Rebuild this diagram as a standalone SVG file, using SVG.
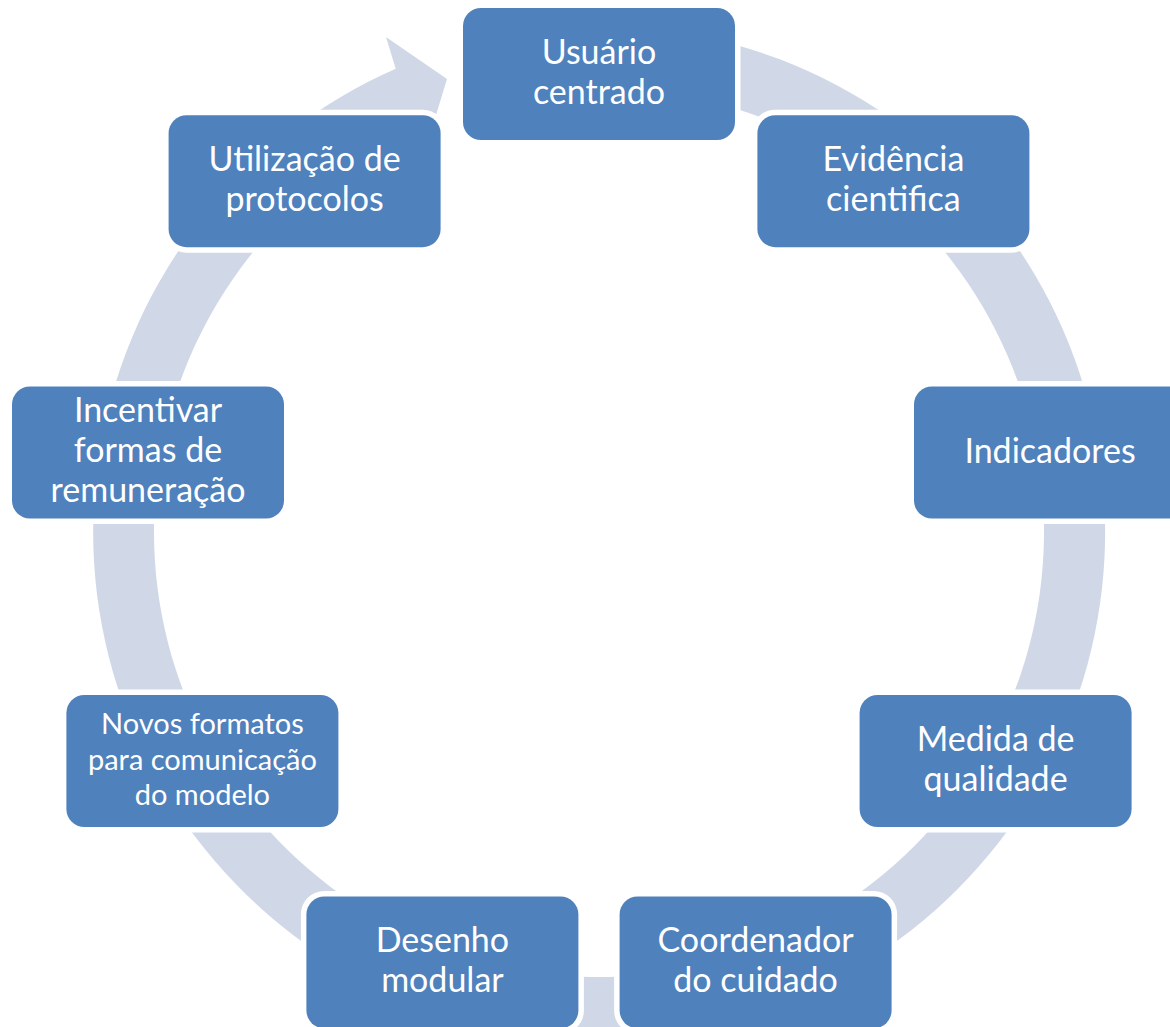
<svg xmlns="http://www.w3.org/2000/svg" width="1170" height="1027" viewBox="0 0 1170 1027">
<defs>
<style>
.box{fill:#4F81BD;stroke:#FFFFFF;stroke-width:11;paint-order:stroke fill}
.t{font-family:Lato,"Liberation Sans",sans-serif;font-size:34px;fill:#FFFFFF;text-anchor:middle}
.s{font-size:29px}
.ring{fill:#D0D8E8}
</style>
</defs>
<rect width="1170" height="1027" fill="#FFFFFF"/>
<g id="connectors">
<path class="ring" d="M599,26 A506,506 0 1,1 395.7,68.7 L386,37 L447,79 L422,161 L420.2,124.5 A445,445 0 1,0 599,87 Z"/>
</g>
<g id="n0">
<rect class="box" x="463" y="8" width="272" height="132" rx="18"/>
<text class="t" x="599" y="64">Usuário</text>
<text class="t" x="599" y="104">centrado</text>
</g>
<g id="n1">
<rect class="box" x="757.4" y="115.2" width="272" height="132" rx="18"/>
<text class="t" x="893.4" y="171">Evidência</text>
<text class="t" x="893.4" y="211">cientifica</text>
</g>
<g id="n2">
<rect class="box" x="914" y="386.5" width="272" height="132" rx="18"/>
<text class="t" x="1050" y="463">Indicadores</text>
</g>
<g id="n3">
<rect class="box" x="859.6" y="695" width="272" height="132" rx="18"/>
<text class="t" x="995.6" y="751">Medida de</text>
<text class="t" x="995.6" y="791">qualidade</text>
</g>
<g id="n4">
<rect class="box" x="619.6" y="896.4" width="272" height="132" rx="18"/>
<text class="t" x="755.6" y="952">Coordenador</text>
<text class="t" x="755.6" y="992">do cuidado</text>
</g>
<g id="n5">
<rect class="box" x="306.4" y="896.4" width="272" height="132" rx="18"/>
<text class="t" x="442.4" y="952">Desenho</text>
<text class="t" x="442.4" y="992">modular</text>
</g>
<g id="n6">
<rect class="box" x="66.4" y="695" width="272" height="132" rx="18"/>
<text class="t s" x="202.4" y="734">Novos formatos</text>
<text class="t s" x="202.4" y="770">para comunicação</text>
<text class="t s" x="202.4" y="805">do modelo</text>
</g>
<g id="n7">
<rect class="box" x="12" y="386.5" width="272" height="132" rx="18"/>
<text class="t" x="148" y="422">Incentivar</text>
<text class="t" x="148" y="462">formas de</text>
<text class="t" x="148" y="502">remuneração</text>
</g>
<g id="n8">
<rect class="box" x="168.6" y="115.2" width="272" height="132" rx="18"/>
<text class="t" x="304.6" y="171">Utilização de</text>
<text class="t" x="304.6" y="211">protocolos</text>
</g>
</svg>
